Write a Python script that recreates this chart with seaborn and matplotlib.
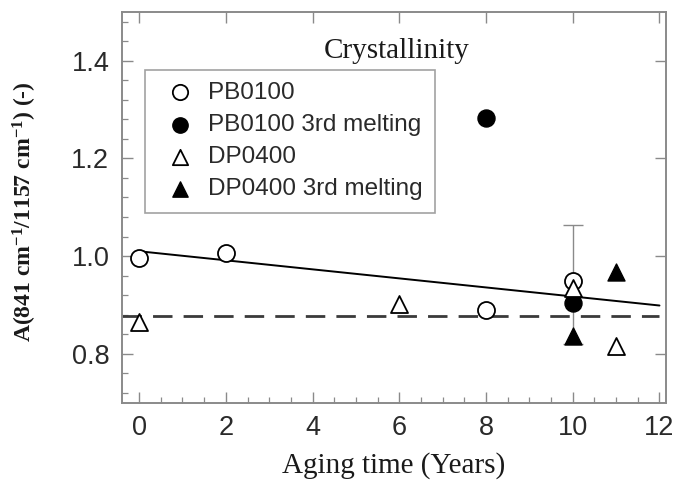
import numpy as np
import pandas as pd
import matplotlib
matplotlib.use("Agg")
import matplotlib.pyplot as plt
import seaborn as sns
from matplotlib.ticker import MultipleLocator

# ---- data ----
pb_x = [0, 2, 8, 10]
pb_y = [0.997, 1.007, 0.890, 0.950]
pb3_x = [8, 10]
pb3_y = [1.282, 0.905]
dp_x = [0, 6, 10, 11]
dp_y = [0.865, 0.903, 0.935, 0.816]
dp3_x = [10, 11]
dp3_y = [0.836, 0.967]
err_x = [10]
err_y = [0.948]
err_lo = [0.128]
err_hi = [0.116]
trend_x = [0, 12]
trend_y = [1.010, 0.899]
mean_x = [-0.4, 12]
mean_y = [0.877, 0.877]

labels = ["PB0100", "PB0100 3rd melting", "DP0400", "DP0400 3rd melting"]
x_ticks = [0, 2, 4, 6, 8, 10, 12]
y_ticks = [0.8, 1.0, 1.2, 1.4]

sns.set_style("ticks")
plt.rcParams["font.family"] = ["Liberation Sans", "DejaVu Sans"]
plt.rcParams["mathtext.fontset"] = "custom"
plt.rcParams["mathtext.rm"] = "Liberation Serif:bold"
plt.rcParams["mathtext.default"] = "rm"

fig = plt.figure(figsize=(6.88, 4.9), dpi=100)
ax = fig.add_axes([0.177, 0.178, 0.791, 0.798])

gray = "#8a8a8a"

# lines
sns.lineplot(x=trend_x, y=trend_y, ax=ax, color="black", lw=1.4, zorder=2)
sns.lineplot(x=mean_x, y=mean_y, ax=ax, color="#3a3a3a", lw=2.0, zorder=2,
             dashes=False, linestyle=(0, (7, 4)))

# error bar
ax.errorbar(err_x, err_y, yerr=[err_lo, err_hi], fmt="none", ecolor=gray,
            elinewidth=1.0, capsize=7, capthick=1.0, zorder=2)

ms = 150
sns.scatterplot(x=pb_x, y=pb_y, ax=ax, marker="o", s=ms, facecolor="white",
                edgecolor="black", linewidth=1.3, label=labels[0], zorder=3)
sns.scatterplot(x=pb3_x, y=pb3_y, ax=ax, marker="o", s=ms, color="black",
                edgecolor="black", linewidth=1.0, label=labels[1], zorder=3)
sns.scatterplot(x=dp_x, y=dp_y, ax=ax, marker="^", s=ms, facecolor="white",
                edgecolor="black", linewidth=1.3, label=labels[2], zorder=3)
sns.scatterplot(x=dp3_x, y=dp3_y, ax=ax, marker="^", s=ms, color="black",
                edgecolor="black", linewidth=1.0, label=labels[3], zorder=3)

ax.set_xlim(-0.4, 12.15)
ax.set_ylim(0.7, 1.5)
ax.set_xticks(x_ticks)
ax.set_yticks(y_ticks)
ax.set_yticklabels([f"{v:.1f}" for v in y_ticks])
ax.xaxis.set_minor_locator(MultipleLocator(0.5))
ax.yaxis.set_minor_locator(MultipleLocator(0.04))
ax.tick_params(which="major", direction="in", length=8, width=1.0, color=gray,
               top=True, right=True, labelsize=19.5, labelcolor="#2a2a2a", pad=9)
ax.tick_params(which="minor", direction="in", length=4, width=0.9, color=gray,
               top=False, right=False, left=True, bottom=True)
for sp in ax.spines.values():
    sp.set_color(gray)
    sp.set_linewidth(1.4)
    sp.set_visible(True)

ax.set_xlabel("Aging time (Years)", family="Liberation Serif", fontsize=21,
              color="#1a1a1a")
ax.xaxis.set_label_coords(0.5, -0.125)
ax.xaxis.label.set_va("top")
ax.set_ylabel(r"A(841 cm$^{-1}$/1157 cm$^{-1}$) (-)", family="Liberation Serif",
              fontweight="bold", fontsize=17, color="#1a1a1a")
ax.yaxis.set_label_coords(-0.152, 0.488)

ax.text(0.505, 0.9, "Crystallinity", transform=ax.transAxes, ha="center",
        va="center", family="Liberation Serif", fontsize=21, color="#1a1a1a")

leg = ax.legend(loc="upper left", bbox_to_anchor=(0.042, 0.852), borderaxespad=0,
                fontsize=17.5, frameon=True, fancybox=False, edgecolor=gray,
                borderpad=0.5, handlelength=1.9, handletextpad=0.2,
                labelspacing=0.42, markerscale=0.9)
leg.get_frame().set_linewidth(1.2)
for t in leg.get_texts():
    t.set_color("#2a2a2a")

fig.savefig("out.png", dpi=100)
